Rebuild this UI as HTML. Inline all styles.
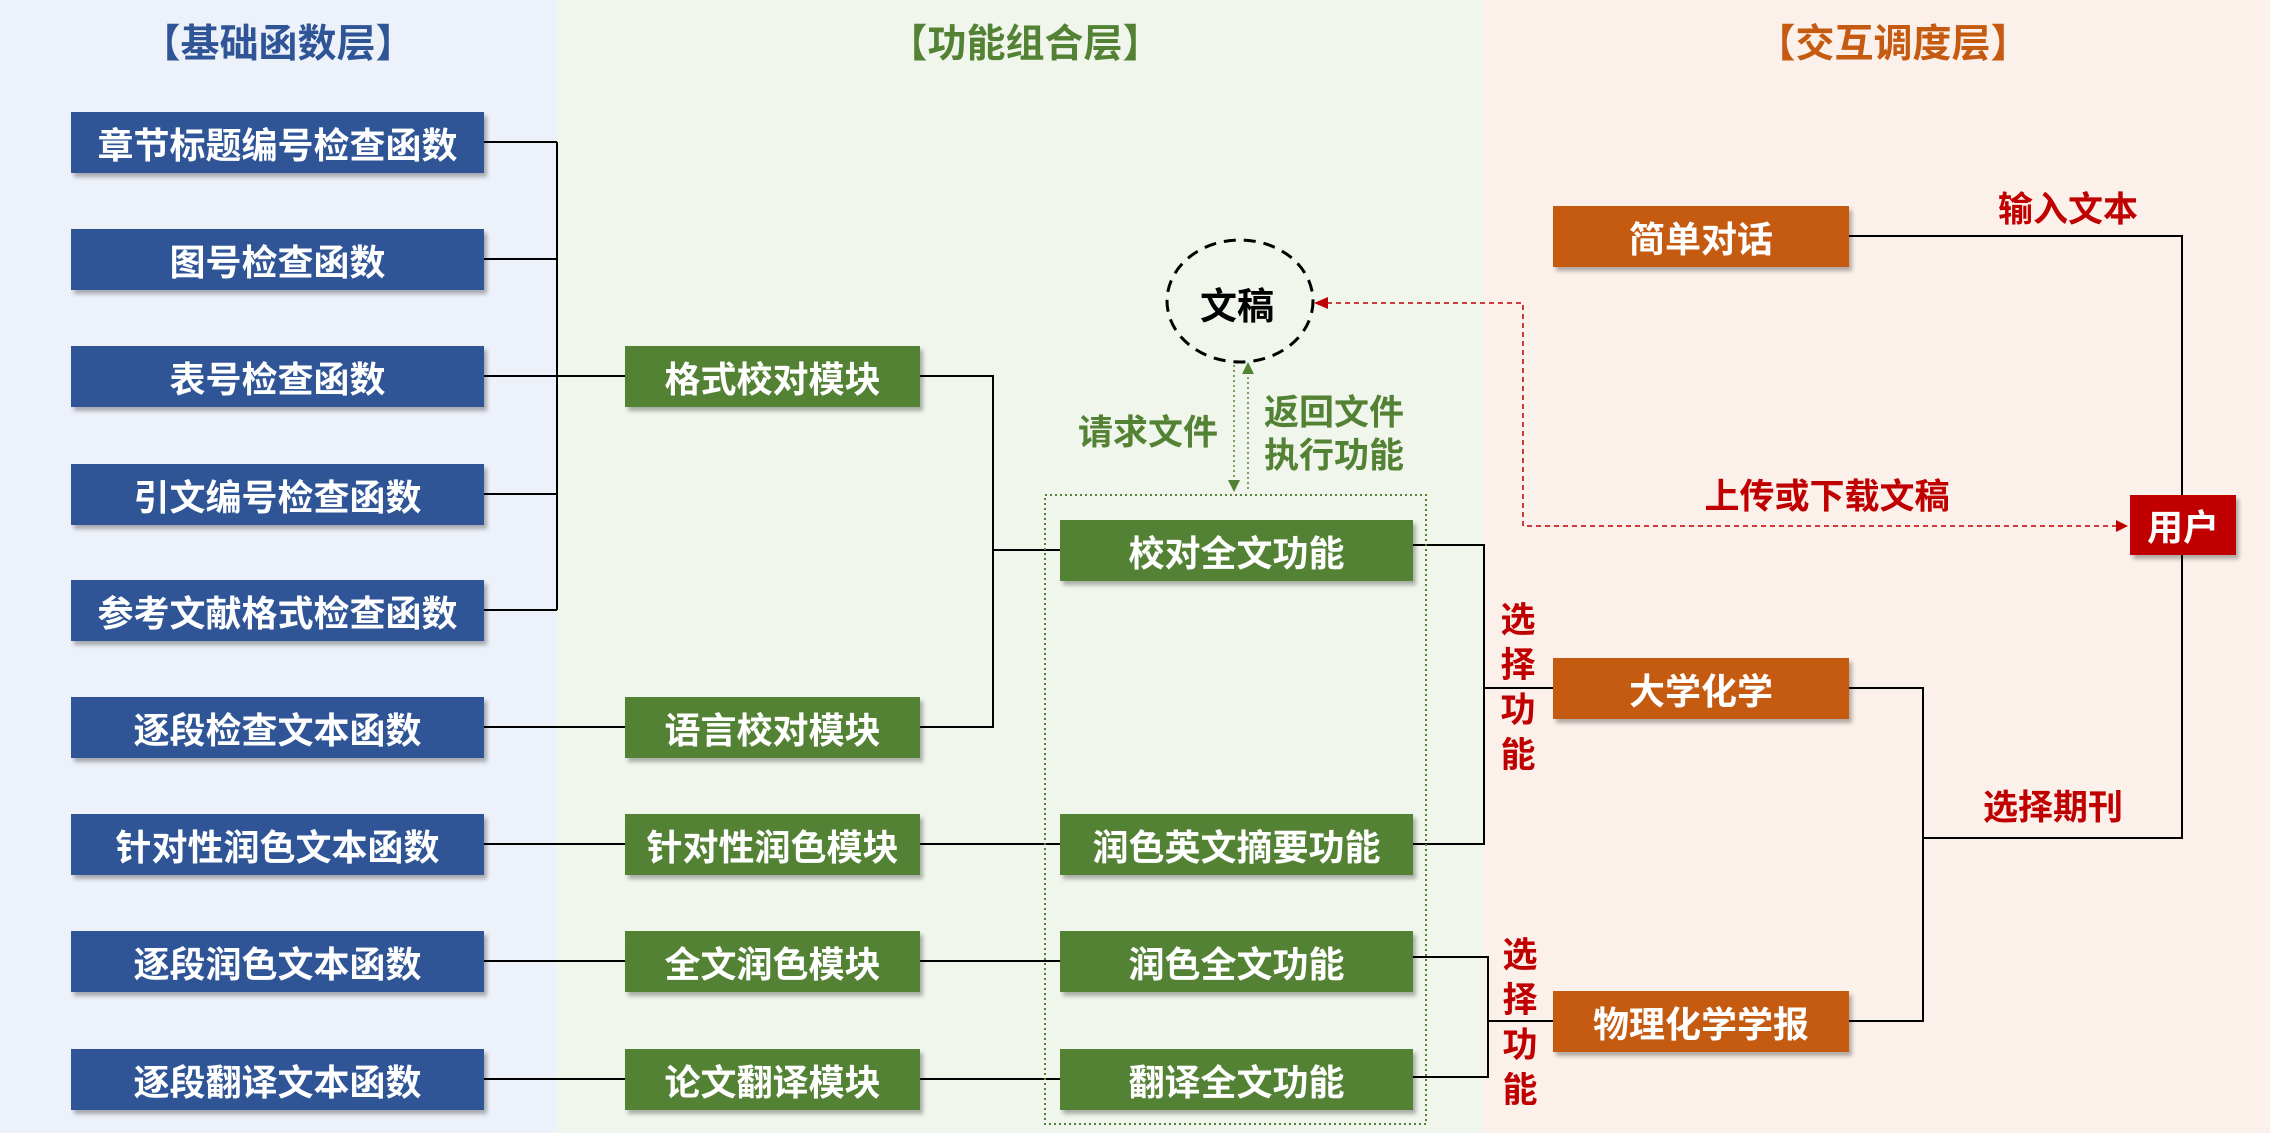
<!DOCTYPE html>
<html><head><meta charset="utf-8">
<style>
body{margin:0;width:2270px;height:1133px;position:relative;overflow:hidden;font-family:"Liberation Sans","Noto Sans CJK SC",sans-serif;}
.bg{position:absolute;top:0;height:1133px}
.t{position:absolute;font-weight:bold;font-size:39px;text-align:center;transform:translate(-50%,-50%);white-space:nowrap}
.b{position:absolute;color:#fff;font-size:36px;font-weight:bold;display:flex;align-items:center;justify-content:center;box-shadow:3px 4px 4px rgba(0,0,0,0.3);white-space:nowrap}
.bl{background:#2f5597;left:71px;width:413px;height:61px}
.gm{background:#548235;left:625px;width:295px;height:61px}
.gf{background:#548235;left:1060px;width:353px;height:61px}
.or{background:#c55a11;left:1553px;width:296px;height:61px}
.l{position:absolute;font-size:35px;font-weight:bold;transform:translate(-50%,-50%);white-space:nowrap}
.red{color:#c00000}.grn{color:#548235}
</style></head><body>
<div class="bg" style="left:0;width:557px;background:#edf1f9"></div>
<div class="bg" style="left:557px;width:926px;background:#f0f6ec"></div>
<div class="bg" style="left:1483px;width:787px;background:#fcf1ea"></div>
<div class="t" style="left:278px;top:41px;color:#2f5597">【基础函数层】</div>
<div class="t" style="left:1025px;top:41px;color:#548235">【功能组合层】</div>
<div class="t" style="left:1893px;top:41px;color:#c55a11">【交互调度层】</div>

<svg width="2270" height="1133" style="position:absolute;left:0;top:0">
<g stroke="#000" stroke-width="2" fill="none">
<path d="M484 142H557M484 259H557M484 376H625M484 494H557M484 610H557M557 142V610"/>
<path d="M484 727H625M484 844H625M484 961H625M484 1079H625"/>
<path d="M920 376H993V727H920M993 550H1060"/>
<path d="M920 844H1060M920 961H1060M920 1079H1060"/>
<path d="M1413 545H1484V844H1413M1484 688H1553"/>
<path d="M1413 957H1488V1077H1413M1488 1021H1553"/>
<path d="M1849 688H1923V1021H1849M1923 838H2182V555M1849 236H2182V495"/>
</g>
<ellipse cx="1240" cy="301" rx="73" ry="61" fill="none" stroke="#000" stroke-width="3" stroke-dasharray="12 8"/>
<rect x="1045" y="495" width="381" height="629" fill="none" stroke="#548235" stroke-width="2" stroke-dasharray="2 3"/>
<g stroke="#548235" stroke-width="1.5" stroke-dasharray="2 3">
<path d="M1234 365V482M1248 372V490"/></g>
<path d="M1228 480L1240 480L1234 492Z" fill="#548235"/>
<path d="M1242 374L1254 374L1248 362Z" fill="#548235"/>
<path d="M2126 526H1523V303H1326" fill="none" stroke="#c00000" stroke-width="1.5" stroke-dasharray="5 4"/>
<path d="M1314 303L1328 297L1328 309Z" fill="#c00000"/>
<path d="M2128 526L2116 520L2116 532Z" fill="#c00000"/>
</svg>

<div class="l" style="left:1237px;top:303px;color:#000;font-size:37px">文稿</div>

<div class="b bl" style="top:112px">章节标题编号检查函数</div>
<div class="b bl" style="top:229px">图号检查函数</div>
<div class="b bl" style="top:346px">表号检查函数</div>
<div class="b bl" style="top:464px">引文编号检查函数</div>
<div class="b bl" style="top:580px">参考文献格式检查函数</div>
<div class="b bl" style="top:697px">逐段检查文本函数</div>
<div class="b bl" style="top:814px">针对性润色文本函数</div>
<div class="b bl" style="top:931px">逐段润色文本函数</div>
<div class="b bl" style="top:1049px">逐段翻译文本函数</div>

<div class="b gm" style="top:346px">格式校对模块</div>
<div class="b gm" style="top:697px">语言校对模块</div>
<div class="b gm" style="top:814px">针对性润色模块</div>
<div class="b gm" style="top:931px">全文润色模块</div>
<div class="b gm" style="top:1049px">论文翻译模块</div>

<div class="b gf" style="top:520px">校对全文功能</div>
<div class="b gf" style="top:814px">润色英文摘要功能</div>
<div class="b gf" style="top:931px">润色全文功能</div>
<div class="b gf" style="top:1049px">翻译全文功能</div>

<div class="b or" style="top:206px">简单对话</div>
<div class="b or" style="top:658px">大学化学</div>
<div class="b or" style="top:991px">物理化学学报</div>
<div class="b" style="background:#c00000;left:2130px;top:495px;width:106px;height:60px">用户</div>

<div class="l grn" style="left:1148px;top:430px">请求文件</div>
<div class="l grn" style="left:1334px;top:410px">返回文件</div>
<div class="l grn" style="left:1334px;top:453px">执行功能</div>
<div class="l red" style="left:2068px;top:207px">输入文本</div>
<div class="l red" style="left:2053px;top:805px">选择期刊</div>
<div class="l red" style="left:1827px;top:494px">上传或下载文稿</div>
<div class="l red" style="left:1518px;top:688px;line-height:45px;width:40px;text-align:center;white-space:normal">选<br>择<br>功<br>能</div>
<div class="l red" style="left:1520px;top:1023px;line-height:45px;width:40px;text-align:center;white-space:normal">选<br>择<br>功<br>能</div>
</body></html>
